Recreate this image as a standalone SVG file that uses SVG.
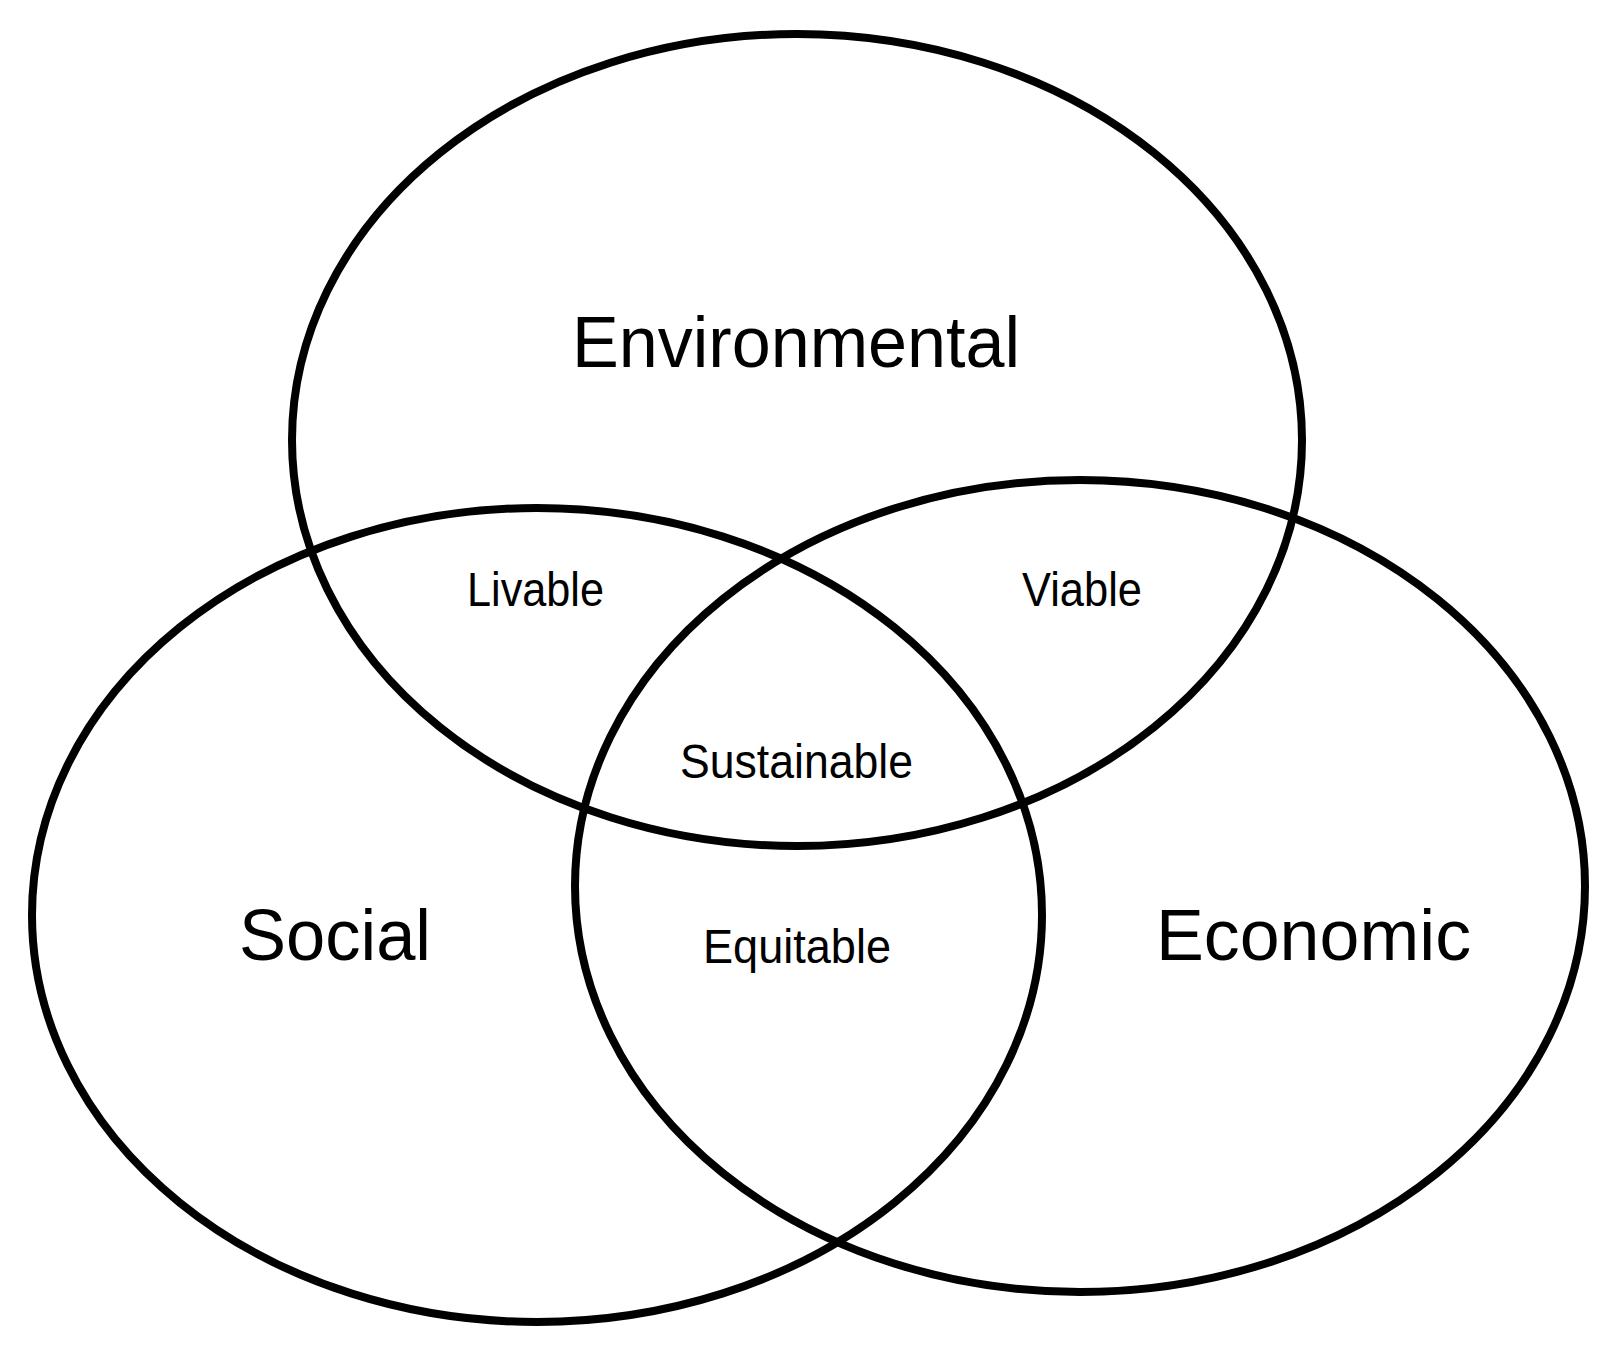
<svg xmlns="http://www.w3.org/2000/svg" width="1618" height="1369" viewBox="0 0 1618 1369">
<style>
.ring{fill:none;stroke:#000;stroke-width:8}
.big{font-family:"Liberation Sans",Arial,sans-serif;font-size:72px;fill:#000}
.small{font-family:"Liberation Sans",Arial,sans-serif;font-size:48px;fill:#000}
</style>
<rect width="1618" height="1369" fill="#fff"/>
<g id="connectors"></g>
<g id="environmental">
<ellipse class="ring" cx="797" cy="440" rx="505" ry="406"/>
<text class="big" x="572" y="367" textLength="448" lengthAdjust="spacingAndGlyphs">Environmental</text>
</g>
<g id="social">
<ellipse class="ring" cx="537" cy="915" rx="505" ry="407"/>
<text class="big" x="239" y="960" textLength="192" lengthAdjust="spacingAndGlyphs">Social</text>
</g>
<g id="economic">
<ellipse class="ring" cx="1080" cy="886" rx="505" ry="406"/>
<text class="big" x="1156" y="960" textLength="315" lengthAdjust="spacingAndGlyphs">Economic</text>
</g>
<g id="livable"><text class="small" x="467" y="606" textLength="137" lengthAdjust="spacingAndGlyphs">Livable</text></g>
<g id="viable"><text class="small" x="1022" y="606" textLength="120" lengthAdjust="spacingAndGlyphs">Viable</text></g>
<g id="sustainable"><text class="small" x="680" y="778" textLength="233" lengthAdjust="spacingAndGlyphs">Sustainable</text></g>
<g id="equitable"><text class="small" x="703" y="963" textLength="188" lengthAdjust="spacingAndGlyphs">Equitable</text></g>
</svg>
